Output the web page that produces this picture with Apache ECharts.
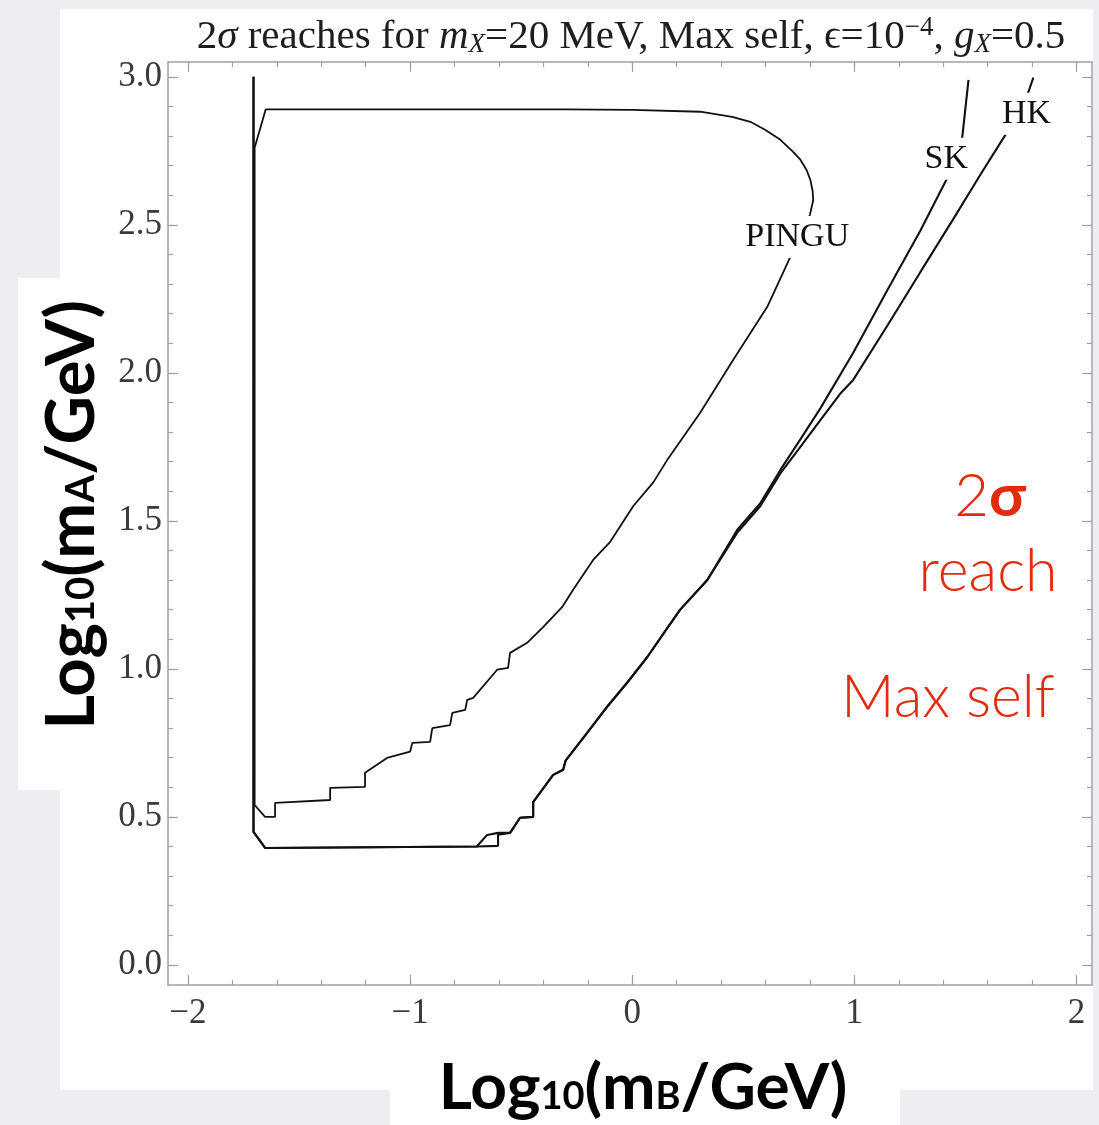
<!DOCTYPE html>
<html><head><meta charset="utf-8">
<script src="https://cdn.jsdelivr.net/npm/echarts@6/dist/echarts.min.js"></script>
<style>html,body{margin:0;padding:0;background:#eceef1}#c{width:1099px;height:1125px}</style>
</head><body><div id="c"></div>
<script>
// ---- tick values ----
const xMajorTicks = [-2, -1, 0, 1, 2];
const xMinorTicks = [-2, -1.8, -1.6, -1.4, -1.2, -1, -0.8, -0.6, -0.4, -0.2, 0, 0.2, 0.4, 0.6, 0.8, 1, 1.2, 1.4, 1.6, 1.8, 2];
const yMajorTicks = [0, 0.5, 1, 1.5, 2, 2.5, 3];
const yMinorTicks = [0, 0.1, 0.2, 0.3, 0.4, 0.5, 0.6, 0.7, 0.8, 0.9, 1, 1.1, 1.2, 1.3, 1.4, 1.5, 1.6, 1.7, 1.8, 1.9, 2, 2.1, 2.2, 2.3, 2.4, 2.5, 2.6, 2.7, 2.8, 2.9, 3];

// ---- contour curves: [log10(mB/GeV), log10(mA/GeV)] ----
const pinguCurve = [
  [-1.70, 2.76], [-1.65, 2.89], [-1.0, 2.89], [-0.3, 2.89], [0.0, 2.888], [0.306, 2.882],
  [0.45, 2.865], [0.532, 2.848], [0.60, 2.82], [0.667, 2.787], [0.72, 2.75], [0.757, 2.72],
  [0.785, 2.685], [0.802, 2.652], [0.812, 2.615], [0.815, 2.584], [0.80, 2.534], [0.775, 2.49],
  [0.743, 2.44], [0.712, 2.392], [0.608, 2.223], [0.455, 2.044], [0.306, 1.865], [0.158, 1.706], [0.095, 1.63],
  [0.005, 1.55], [-0.099, 1.429], [-0.176, 1.368], [-0.266, 1.267], [-0.315, 1.209], [-0.40, 1.142],
  [-0.473, 1.088], [-0.55, 1.054], [-0.559, 1.003], [-0.608, 0.997], [-0.716, 0.902], [-0.743, 0.895],
  [-0.752, 0.861], [-0.81, 0.851], [-0.82, 0.81], [-0.90, 0.80], [-0.91, 0.753], [-0.99, 0.75],
  [-1.0, 0.72], [-1.104, 0.699], [-1.203, 0.649], [-1.203, 0.601], [-1.36, 0.598], [-1.36, 0.557],
  [-1.608, 0.547], [-1.608, 0.50], [-1.653, 0.50], [-1.70, 0.54], [-1.70, 2.76]
];
const skCurve = [
  [-1.705, 3.0], [-1.705, 0.449], [-1.653, 0.395], [-0.70, 0.40], [-0.653, 0.439], [-0.604, 0.446],
  [-0.55, 0.446], [-0.505, 0.497], [-0.446, 0.50], [-0.446, 0.55], [-0.356, 0.642], [-0.311, 0.659],
  [-0.30, 0.69], [-0.203, 0.784], [-0.113, 0.872], [-0.023, 0.953], [0.068, 1.04], [0.16, 1.14],
  [0.216, 1.20], [0.338, 1.30], [0.473, 1.47], [0.577, 1.56], [0.667, 1.672], [0.757, 1.775],
  [0.847, 1.88], [0.995, 2.068], [1.149, 2.28], [1.297, 2.48], [1.419, 2.659], [1.486, 2.797], [1.514, 2.99]
];
const hkCurve = [
  [-1.705, 3.0], [-1.705, 0.449], [-1.653, 0.395], [-0.70, 0.40], [-0.604, 0.402], [-0.604, 0.44],
  [-0.55, 0.446], [-0.505, 0.497], [-0.446, 0.50], [-0.446, 0.55], [-0.356, 0.642], [-0.311, 0.659],
  [-0.30, 0.69], [-0.203, 0.784], [-0.113, 0.872], [-0.023, 0.953], [0.068, 1.04], [0.16, 1.14],
  [0.216, 1.20], [0.338, 1.30], [0.473, 1.46], [0.577, 1.55], [0.667, 1.66], [0.757, 1.75],
  [0.847, 1.84], [0.937, 1.93], [0.995, 1.976], [1.149, 2.16], [1.297, 2.34], [1.446, 2.52],
  [1.568, 2.67], [1.68, 2.804], [1.775, 2.93], [1.806, 2.997]
];
// ---- curve labels ----
const curveLabels = [[0.743, 2.459, 'PINGU'], [1.414, 2.723, 'SK'], [1.775, 2.875, 'HK']];

const serif = '"Liberation Serif", "Times New Roman", serif';
const sans = 'Lato, "Open Sans", sans-serif';
const frameColor = '#a0a0a0';
const xMin = -2.09, xMax = 2.07, yMin = -0.068, yMax = 3.05;

function fmtX(v) { return v < 0 ? '\u2212' + Math.abs(v) : String(v); }
function fmtY(v) { return v.toFixed(1); }

function mkX(pos, ticks, len, labels, line) {
  return {
    type: 'value', position: pos, min: xMin, max: xMax,
    axisLine: { show: line, onZero: false, lineStyle: { color: frameColor, width: 1.5 } },
    axisTick: { show: true, inside: true, length: len, customValues: ticks, lineStyle: { color: frameColor, width: 1.2 } },
    axisLabel: labels ? { show: true, customValues: xMajorTicks, formatter: fmtX, margin: 11, fontFamily: serif, fontSize: 35, color: '#3a3a3a' } : { show: false },
    splitLine: { show: false }
  };
}
function mkY(pos, ticks, len, labels, line) {
  return {
    type: 'value', position: pos, min: yMin, max: yMax,
    axisLine: { show: line, onZero: false, lineStyle: { color: frameColor, width: 1.5 } },
    axisTick: { show: true, inside: true, length: len, customValues: ticks, lineStyle: { color: frameColor, width: 1.2 } },
    axisLabel: labels ? { show: true, customValues: yMajorTicks, formatter: fmtY, margin: 6, fontFamily: serif, fontSize: 35, color: '#3a3a3a' } : { show: false },
    splitLine: { show: false }
  };
}

const chart = echarts.init(document.getElementById('c'), null, { renderer: 'canvas' });
const lineSeries = (name, data, w) => ({
  name, type: 'line', data, xAxisIndex: 0, yAxisIndex: 0, showSymbol: false, symbol: 'none',
  lineStyle: { color: '#111', width: w }, z: 3, animation: false, clip: true
});

chart.setOption({
  backgroundColor: '#eceef1',
  animation: false,
  grid: { left: 168, top: 62, width: 924, height: 923, containLabel: false },
  xAxis: [
    mkX('bottom', xMajorTicks, 10, true, true),
    mkX('bottom', xMinorTicks, 5, false, false),
    mkX('top', xMajorTicks, 10, false, true),
    mkX('top', xMinorTicks, 5, false, false)
  ],
  yAxis: [
    mkY('left', yMajorTicks, 10, true, true),
    mkY('left', yMinorTicks, 5, false, false),
    mkY('right', yMajorTicks, 10, false, true),
    mkY('right', yMinorTicks, 5, false, false)
  ],
  graphic: [
    { type: 'rect', z: -10, silent: true, shape: { x: 60, y: 9, width: 1033, height: 1081 }, style: { fill: '#ffffff' } },
    { type: 'rect', z: -10, silent: true, shape: { x: 18, y: 278, width: 50, height: 512 }, style: { fill: '#ffffff' } },
    { type: 'rect', z: -10, silent: true, shape: { x: 390, y: 1080, width: 510, height: 45 }, style: { fill: '#ffffff' } },
    { type: 'text', z: 10, x: 631, y: 37, style: {
        text: '{n|2}{i|σ}{n| reaches for }{i|m}{sub|X}{n|=20 MeV, Max self, ϵ=10}{sup|−4}{n|, }{i|g}{sub|X}{n|=0.5}',
        align: 'center', verticalAlign: 'middle',
        rich: {
          n: { fontFamily: serif, fontSize: 41, fill: '#1e1e1e' },
          i: { fontFamily: serif, fontSize: 41, fontStyle: 'italic', fill: '#1e1e1e' },
          sub: { fontFamily: serif, fontSize: 27, fontStyle: 'italic', fill: '#1e1e1e', padding: [16, 0, 0, 0] },
          sup: { fontFamily: serif, fontSize: 27, fill: '#1e1e1e', padding: [0, 0, 18, 0] }
        } } },
    { type: 'text', z: 10, x: 643, y: 1088, style: {
        text: '{b|Log}{s|10}{b|(m}{s|B}{b|/GeV)}', align: 'center', verticalAlign: 'middle',
        rich: {
          b: { fontFamily: sans, fontSize: 64, fontWeight: 'bold', fill: '#000' },
          s: { fontFamily: sans, fontSize: 38, fontWeight: 'bold', fill: '#000', padding: [18, 0, 0, 0] }
        } } },
    { type: 'text', z: 10, x: 72, y: 515, rotation: Math.PI / 2, style: {
        text: '{b|Log}{s|10}{b|(m}{s|A}{b|/GeV)}', align: 'center', verticalAlign: 'middle',
        rich: {
          b: { fontFamily: sans, fontSize: 67, fontWeight: 'bold', fill: '#000' },
          s: { fontFamily: sans, fontSize: 40, fontWeight: 'bold', fill: '#000', padding: [18, 0, 0, 0] }
        } } },
    { type: 'text', z: 10, x: 990, y: 497, style: {
        text: '{a|2}{b|σ}', align: 'center', verticalAlign: 'middle',
        rich: {
          a: { fontFamily: sans, fontSize: 60, fontWeight: 300, fill: '#e32b0e' },
          b: { fontFamily: sans, fontSize: 60, fontWeight: 'bold', fill: '#e32b0e' }
        } } },
    { type: 'text', z: 10, x: 988, y: 572, style: { text: 'reach', align: 'center', verticalAlign: 'middle', fontFamily: sans, fontSize: 59, fontWeight: 300, fill: '#e32b0e' } },
    { type: 'text', z: 10, x: 948, y: 698, style: { text: 'Max self', align: 'center', verticalAlign: 'middle', fontFamily: sans, fontSize: 59, fontWeight: 300, fill: '#e32b0e' } }
  ],
  series: [
    lineSeries('PINGU', pinguCurve, 1.8),
    lineSeries('SK', skCurve, 2.1),
    lineSeries('HK', hkCurve, 2.1),
    {
      name: 'labels', type: 'scatter', data: curveLabels, symbolSize: 1, z: 10, zlevel: 1, xAxisIndex: 0, yAxisIndex: 0,
      itemStyle: { opacity: 1, color: '#fff' },
      emphasis: { disabled: true },
      label: { show: true, position: 'inside', opacity: 1, formatter: p => p.value[2], fontFamily: serif, fontSize: 34, color: '#111', backgroundColor: '#fff', padding: [4, 3] }
    }
  ]
});
</script>
</body></html>
